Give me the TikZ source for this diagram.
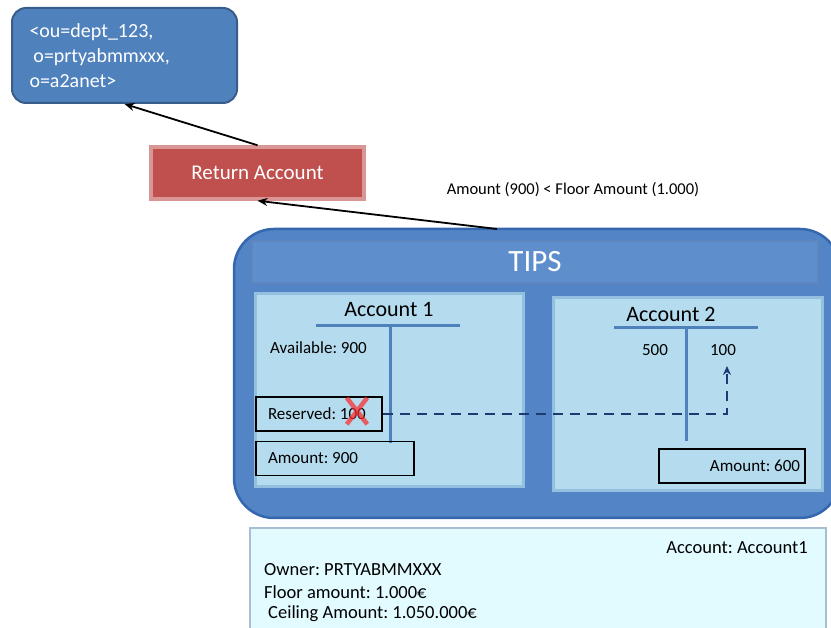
\documentclass[tikz,border=0pt]{standalone}
\usepackage{fontspec}
\setmainfont{Carlito}
\usepackage{tikz}
\usetikzlibrary{arrows.meta, positioning, calc, shapes.misc}
\tikzstyle{arrow} = [line width=1.8pt, -{Stealth[length=10pt,width=8pt]}]

\definecolor{keyblue}{HTML}{4F81BD}
\definecolor{keyline}{HTML}{385D8A}
\definecolor{retred}{HTML}{C0504D}
\definecolor{retline}{HTML}{D99694}
\definecolor{tipsblue}{HTML}{5284C6}
\definecolor{tipsline}{HTML}{3567AE}
\definecolor{barblue}{HTML}{5E8ECB}
\definecolor{panelblue}{HTML}{B5DCEE}
\definecolor{panelline}{HTML}{93C0DF}
\definecolor{tblue}{HTML}{4F81BD}
\definecolor{navy}{HTML}{1F3A72}
\definecolor{infofill}{HTML}{E1FBFF}
\definecolor{infoline}{HTML}{A9BDD3}

\begin{document}
\frenchspacing
\begin{tikzpicture}[
	x=1pt, y=-1pt,
	font=\fontsize{17}{20}\selectfont,
	keynode/.style={draw=keyline, line width=2pt, fill=keyblue, rounded corners=14pt,
		minimum width=225pt, minimum height=95pt, text width=190pt, align=left,
		text=white, font=\fontsize{20}{25}\selectfont},
	retnode/.style={draw=retline, line width=3.5pt, fill=retred, minimum width=213pt,
		minimum height=52pt, text=white, font=\fontsize{21}{24}\selectfont},
	tipsnode/.style={draw=tipsline, line width=2.5pt, fill=tipsblue, rounded corners=40pt,
		minimum width=606pt, minimum height=289pt},
	barnode/.style={draw=tipsline!80, line width=2pt, fill=barblue, minimum width=566pt,
		minimum height=42pt, text=white, font=\fontsize{31}{34}\selectfont},
	panel/.style={draw=panelline, line width=3pt, fill=panelblue, minimum height=193pt},
	title/.style={font=\fontsize{22}{24}\selectfont},
	valbox/.style={draw=black, line width=1.2pt, minimum height=34pt, inner xsep=12pt},
	tline/.style={draw=tblue, line width=3pt},
	transfer/.style={draw=navy, line width=2.6pt, dash pattern=on 10pt off 7pt,
		-{Stealth[length=9pt,width=8pt]}},
	infonode/.style={draw=infoline, line width=2pt, fill=infofill, minimum width=576pt,
		minimum height=112pt},
	infotext/.style={font=\fontsize{18.5}{21}\selectfont, inner sep=0pt}
]
\useasboundingbox (0,0) rectangle (831,628);

% top boxes
\node[keynode] (key) at (124.5,55.5) {<ou=dept\_123,\\\hspace{4pt}o=prtyabmmxxx,\\o=a2anet>};
\node[retnode] (ret) at (257.5,173) {Return Account};

% TIPS
\node[tipsnode] (tips) at (537,373.5) {};
\node[barnode] (bar) at (535,262) {TIPS};
\node[panel, minimum width=268pt] (acc1) at (389,390.5) {};
\node[panel, minimum width=269pt] (acc2) at (687.5,394.5) {};

% account 1
\node[title] (acc1t) at (389,310) {Account 1};
\draw[tline] (316,326) -- (460,326);
\draw[tline] (390,326) -- (390,443);
\node[anchor=west, inner sep=0pt] (avail) at (270,348) {Available: 900};
\node[valbox] (res) at (319,414) {\makebox[102pt][l]{Reserved: 100}};
\node[valbox] (amt1) at (335,458.5) {\makebox[134pt][l]{Amount: 900}};
\node[cross out, draw=red!85, line width=4.5pt, opacity=0.7, minimum width=16pt,
	minimum height=22pt, inner sep=0pt] (nox) at (357,411) {};

% account 2
\node[title] (acc2t) at (671,314) {Account 2};
\draw[tline] (614,328) -- (758,328);
\draw[tline] (686,328) -- (686,441);
\node (debit) at (655,350) {500};
\node (credit) at (723,350) {100};
\node[valbox, inner xsep=5pt] (amt2) at (732,466) {\makebox[136pt][r]{Amount: 600}};

% info
\node[infonode] (info) at (538,584) {};
\node[infotext, anchor=east] (accname) at (808,548) {Account: Account1};
\node[infotext, anchor=west] (owner) at (264,570) {Owner: PRTYABMMXXX};
\node[infotext, anchor=west] (floor) at (264,592) {Floor amount: 1.000€};
\node[infotext, anchor=west] (ceil) at (268,614) {Ceiling Amount: 1.050.000€};

% connectors
\coordinate (tipsin) at (497,229);
\coordinate (tgt) at (727,366);
\node[font=\fontsize{16.5}{19}\selectfont] (floorlbl) at (573,190) {Amount (900) < Floor Amount (1.000)};
\draw[arrow] (ret.north) -- (key.south);
\draw[arrow] (tipsin) -- (ret.south);
\draw[transfer] (res.east) -| (tgt);

\end{tikzpicture}
\end{document}
